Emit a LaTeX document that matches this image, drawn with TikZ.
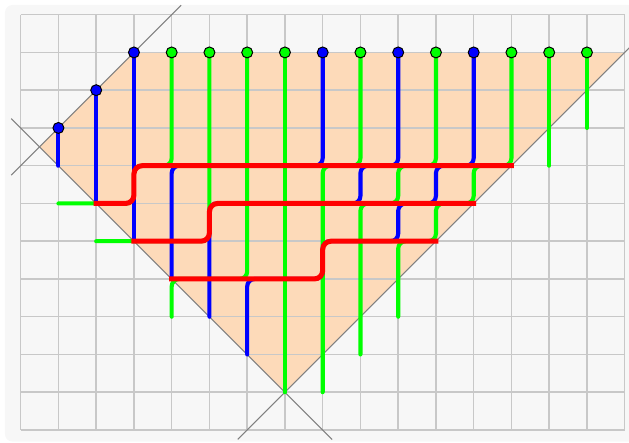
\documentclass[tikz,border=0pt]{standalone}
\pgfdeclarelayer{bgl}
\pgfdeclarelayer{wl}
\pgfsetlayers{bgl,wl,main}
\definecolor{bgcol}{RGB}{247,247,247}
\definecolor{peach}{RGB}{253,218,185}
\definecolor{gridc}{RGB}{200,200,200}
\definecolor{diagc}{RGB}{128,128,128}
\definecolor{wgreen}{RGB}{0,255,0}
\definecolor{wblue}{RGB}{0,0,255}
\definecolor{wred}{RGB}{255,0,0}
\tikzset{
  gridline/.style={draw=gridc, line width=1.1pt},
  diag/.style={draw=diagc, line width=0.8pt},
  wire/.style={line width=3.1pt, line cap=round, rounded corners=2mm},
  gw/.style={wire, draw=wgreen},
  bw/.style={wire, draw=wblue},
  redpath/.style={draw=wred, line width=3.8pt, line cap=rect, rounded corners=2.2mm},
  dotbase/.style={circle, draw=black, line width=0.75pt, inner sep=0pt, minimum size=2.9mm},
  gdot/.style={dotbase, fill=wgreen},
  bdot/.style={dotbase, fill=wblue}
}
\begin{document}
\begin{tikzpicture}[x=1cm,y=-1cm]
\useasboundingbox (-0.548,-0.389) rectangle (16.114,11.344);
% circles (terminals)
\node[bdot] (n1) at (1,3) {};
\node[bdot] (n2) at (2,2) {};
\node[bdot] (n3) at (3,1) {};
\node[gdot] (n4) at (4,1) {};
\node[gdot] (n5) at (5,1) {};
\node[gdot] (n6) at (6,1) {};
\node[gdot] (n7) at (7,1) {};
\node[bdot] (n8) at (8,1) {};
\node[gdot] (n9) at (9,1) {};
\node[bdot] (n10) at (10,1) {};
\node[gdot] (n11) at (11,1) {};
\node[bdot] (n12) at (12,1) {};
\node[gdot] (n13) at (13,1) {};
\node[gdot] (n14) at (14,1) {};
\node[gdot] (n15) at (15,1) {};
% red path ends
\coordinate (r1s) at (2,5);  \coordinate (r1e) at (13,4);
\coordinate (r2s) at (3,6);  \coordinate (r2e) at (12,5);
\coordinate (r3s) at (4,7);  \coordinate (r3e) at (11,6);
\begin{pgfonlayer}{bgl}
  \fill[bgcol, rounded corners=2mm] (-0.416,-0.257) rectangle (16.6,11.31);
  \fill[peach] (3,1) -- (16,1) -- (7,10) -- (0.5,3.5) -- cycle;
  \draw[gridline] (0,0) grid (16,11);
  \draw[diag] (-0.25,4.25) -- (4.25,-0.25);
  \draw[diag] (-0.25,2.75) -- (8.25,11.25);
  \draw[diag] (5.75,11.25) -- (16.25,0.75);
\end{pgfonlayer}
\begin{pgfonlayer}{wl}
  % green wires
  \draw[gw] (n4.center) -- (4,4) -- (3,4) -- (3,5) -- (1,5);
  \draw[gw] (n5.center) -- (5,6) -- (2,6);
  \draw[gw] (n6.center) -- (6,7) -- (4,7) -- (4,8);
  \draw[gw] (n7.center) -- (7,10);
  \draw[gw] (n9.center) -- (9,4) -- (8,4) -- (8,10);
  \draw[gw] (n11.center) -- (11,4) -- (10,4) -- (10,5) -- (9,5) -- (9,9);
  \draw[gw] (n13.center) -- (13,4) -- (12,4) -- (12,5) -- (11,5) -- (11,6) -- (10,6) -- (10,8);
  \draw[gw] (n14.center) -- (14,4);
  \draw[gw] (n15.center) -- (15,3);
  % blue wires
  \draw[bw] (n1.center) -- (1,4);
  \draw[bw] (n2.center) -- (2,5);
  \draw[bw] (n3.center) -- (3,6);
  \draw[bw] (n8.center) -- (8,4) -- (4,4) -- (4,7);
  \draw[bw] (n10.center) -- (10,4) -- (9,4) -- (9,5) -- (5,5) -- (5,8);
  \draw[bw] (n12.center) -- (12,4) -- (11,4) -- (11,5) -- (10,5) -- (10,6) -- (8,6) -- (8,7) -- (6,7) -- (6,9);
  % red paths
  \draw[redpath] (r1s) -- (3,5) -- (3,4) -- (r1e);
  \draw[redpath] (r2s) -- (5,6) -- (5,5) -- (r2e);
  \draw[redpath] (r3s) -- (8,7) -- (8,6) -- (r3e);
\end{pgfonlayer}
\end{tikzpicture}
\end{document}
